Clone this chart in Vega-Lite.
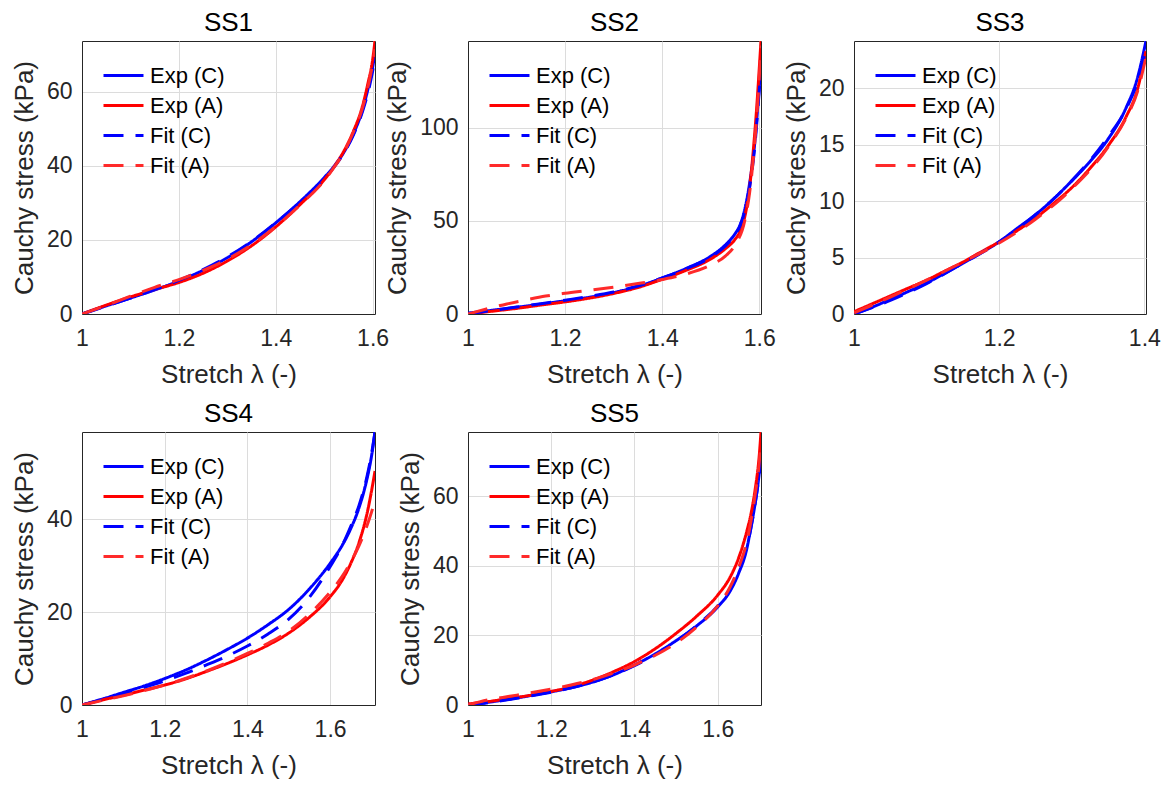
{
  "$schema": "https://vega.github.io/schema/vega-lite/v6.json",
  "background": "white",
  "padding": {"left": 10, "top": 9, "right": 0, "bottom": 0},
  "datasets": {
    "curves": [
      {"p":"SS1","s":"Exp (C)","x":1,"y":0},{"p":"SS1","s":"Exp (C)","x":1.05,"y":2.2},{"p":"SS1","s":"Exp (C)","x":1.1,"y":4.3},{"p":"SS1","s":"Exp (C)","x":1.15,"y":6.5},{"p":"SS1","s":"Exp (C)","x":1.2,"y":8.9},{"p":"SS1","s":"Exp (C)","x":1.25,"y":11.8},{"p":"SS1","s":"Exp (C)","x":1.3,"y":15.2},{"p":"SS1","s":"Exp (C)","x":1.35,"y":19.5},{"p":"SS1","s":"Exp (C)","x":1.4,"y":24.6},{"p":"SS1","s":"Exp (C)","x":1.45,"y":30.3},{"p":"SS1","s":"Exp (C)","x":1.5,"y":36.8},{"p":"SS1","s":"Exp (C)","x":1.52,"y":39.8},{"p":"SS1","s":"Exp (C)","x":1.54,"y":43.5},{"p":"SS1","s":"Exp (C)","x":1.56,"y":48.5},{"p":"SS1","s":"Exp (C)","x":1.58,"y":55.5},{"p":"SS1","s":"Exp (C)","x":1.59,"y":60.5},{"p":"SS1","s":"Exp (C)","x":1.6,"y":66.5},{"p":"SS1","s":"Exp (C)","x":1.605,"y":70.5},
      {"p":"SS1","s":"Exp (A)","x":1,"y":0},{"p":"SS1","s":"Exp (A)","x":1.05,"y":2.4},{"p":"SS1","s":"Exp (A)","x":1.1,"y":4.6},{"p":"SS1","s":"Exp (A)","x":1.15,"y":6.6},{"p":"SS1","s":"Exp (A)","x":1.2,"y":8.5},{"p":"SS1","s":"Exp (A)","x":1.25,"y":11},{"p":"SS1","s":"Exp (A)","x":1.3,"y":14.3},{"p":"SS1","s":"Exp (A)","x":1.35,"y":18.4},{"p":"SS1","s":"Exp (A)","x":1.4,"y":23.5},{"p":"SS1","s":"Exp (A)","x":1.45,"y":29.5},{"p":"SS1","s":"Exp (A)","x":1.5,"y":36.2},{"p":"SS1","s":"Exp (A)","x":1.52,"y":39.7},{"p":"SS1","s":"Exp (A)","x":1.54,"y":43.8},{"p":"SS1","s":"Exp (A)","x":1.56,"y":49.2},{"p":"SS1","s":"Exp (A)","x":1.58,"y":56.5},{"p":"SS1","s":"Exp (A)","x":1.59,"y":62},{"p":"SS1","s":"Exp (A)","x":1.6,"y":68.5},{"p":"SS1","s":"Exp (A)","x":1.605,"y":73.7},
      {"p":"SS1","s":"Fit (C)","x":1,"y":0},{"p":"SS1","s":"Fit (C)","x":1.05,"y":2.1},{"p":"SS1","s":"Fit (C)","x":1.1,"y":4.3},{"p":"SS1","s":"Fit (C)","x":1.15,"y":6.6},{"p":"SS1","s":"Fit (C)","x":1.2,"y":9.1},{"p":"SS1","s":"Fit (C)","x":1.25,"y":12},{"p":"SS1","s":"Fit (C)","x":1.3,"y":15.4},{"p":"SS1","s":"Fit (C)","x":1.35,"y":19.6},{"p":"SS1","s":"Fit (C)","x":1.4,"y":24.6},{"p":"SS1","s":"Fit (C)","x":1.45,"y":30.2},{"p":"SS1","s":"Fit (C)","x":1.5,"y":36.6},{"p":"SS1","s":"Fit (C)","x":1.52,"y":39.6},{"p":"SS1","s":"Fit (C)","x":1.54,"y":43.3},{"p":"SS1","s":"Fit (C)","x":1.56,"y":48.2},{"p":"SS1","s":"Fit (C)","x":1.58,"y":55},{"p":"SS1","s":"Fit (C)","x":1.59,"y":59.5},{"p":"SS1","s":"Fit (C)","x":1.6,"y":65.5},{"p":"SS1","s":"Fit (C)","x":1.605,"y":69},
      {"p":"SS1","s":"Fit (A)","x":1,"y":0},{"p":"SS1","s":"Fit (A)","x":1.05,"y":2.3},{"p":"SS1","s":"Fit (A)","x":1.1,"y":4.8},{"p":"SS1","s":"Fit (A)","x":1.15,"y":7.2},{"p":"SS1","s":"Fit (A)","x":1.2,"y":9.3},{"p":"SS1","s":"Fit (A)","x":1.25,"y":11.8},{"p":"SS1","s":"Fit (A)","x":1.3,"y":14.8},{"p":"SS1","s":"Fit (A)","x":1.35,"y":18.7},{"p":"SS1","s":"Fit (A)","x":1.4,"y":23.6},{"p":"SS1","s":"Fit (A)","x":1.45,"y":29.4},{"p":"SS1","s":"Fit (A)","x":1.5,"y":36},{"p":"SS1","s":"Fit (A)","x":1.52,"y":39.5},{"p":"SS1","s":"Fit (A)","x":1.54,"y":43.5},{"p":"SS1","s":"Fit (A)","x":1.56,"y":49},{"p":"SS1","s":"Fit (A)","x":1.58,"y":56},{"p":"SS1","s":"Fit (A)","x":1.59,"y":61},{"p":"SS1","s":"Fit (A)","x":1.6,"y":67.5},{"p":"SS1","s":"Fit (A)","x":1.605,"y":71.5},

      {"p":"SS2","s":"Exp (C)","x":1,"y":0.5},{"p":"SS2","s":"Exp (C)","x":1.05,"y":2},{"p":"SS2","s":"Exp (C)","x":1.1,"y":3.6},{"p":"SS2","s":"Exp (C)","x":1.15,"y":5.3},{"p":"SS2","s":"Exp (C)","x":1.2,"y":7.1},{"p":"SS2","s":"Exp (C)","x":1.25,"y":9},{"p":"SS2","s":"Exp (C)","x":1.3,"y":11.5},{"p":"SS2","s":"Exp (C)","x":1.35,"y":14.8},{"p":"SS2","s":"Exp (C)","x":1.4,"y":19.3},{"p":"SS2","s":"Exp (C)","x":1.45,"y":24.5},{"p":"SS2","s":"Exp (C)","x":1.5,"y":31},{"p":"SS2","s":"Exp (C)","x":1.53,"y":37},{"p":"SS2","s":"Exp (C)","x":1.55,"y":43},{"p":"SS2","s":"Exp (C)","x":1.56,"y":47.5},{"p":"SS2","s":"Exp (C)","x":1.57,"y":56},{"p":"SS2","s":"Exp (C)","x":1.58,"y":70},{"p":"SS2","s":"Exp (C)","x":1.59,"y":90},{"p":"SS2","s":"Exp (C)","x":1.595,"y":105},{"p":"SS2","s":"Exp (C)","x":1.6,"y":122},{"p":"SS2","s":"Exp (C)","x":1.6035,"y":131.3},
      {"p":"SS2","s":"Exp (A)","x":1,"y":0},{"p":"SS2","s":"Exp (A)","x":1.05,"y":1.5},{"p":"SS2","s":"Exp (A)","x":1.1,"y":3},{"p":"SS2","s":"Exp (A)","x":1.15,"y":4.8},{"p":"SS2","s":"Exp (A)","x":1.2,"y":6.5},{"p":"SS2","s":"Exp (A)","x":1.25,"y":8.5},{"p":"SS2","s":"Exp (A)","x":1.3,"y":11},{"p":"SS2","s":"Exp (A)","x":1.35,"y":14.2},{"p":"SS2","s":"Exp (A)","x":1.4,"y":18.6},{"p":"SS2","s":"Exp (A)","x":1.45,"y":23.5},{"p":"SS2","s":"Exp (A)","x":1.5,"y":29.5},{"p":"SS2","s":"Exp (A)","x":1.53,"y":35},{"p":"SS2","s":"Exp (A)","x":1.55,"y":40},{"p":"SS2","s":"Exp (A)","x":1.56,"y":44},{"p":"SS2","s":"Exp (A)","x":1.57,"y":52},{"p":"SS2","s":"Exp (A)","x":1.58,"y":68},{"p":"SS2","s":"Exp (A)","x":1.59,"y":95},{"p":"SS2","s":"Exp (A)","x":1.595,"y":112},{"p":"SS2","s":"Exp (A)","x":1.6,"y":132},{"p":"SS2","s":"Exp (A)","x":1.6035,"y":146.4},
      {"p":"SS2","s":"Fit (C)","x":1,"y":0},{"p":"SS2","s":"Fit (C)","x":1.05,"y":1.9},{"p":"SS2","s":"Fit (C)","x":1.1,"y":3.7},{"p":"SS2","s":"Fit (C)","x":1.15,"y":5.5},{"p":"SS2","s":"Fit (C)","x":1.2,"y":7.4},{"p":"SS2","s":"Fit (C)","x":1.25,"y":9.4},{"p":"SS2","s":"Fit (C)","x":1.3,"y":11.8},{"p":"SS2","s":"Fit (C)","x":1.35,"y":15},{"p":"SS2","s":"Fit (C)","x":1.4,"y":19.3},{"p":"SS2","s":"Fit (C)","x":1.45,"y":24.3},{"p":"SS2","s":"Fit (C)","x":1.5,"y":30.5},{"p":"SS2","s":"Fit (C)","x":1.53,"y":36.5},{"p":"SS2","s":"Fit (C)","x":1.55,"y":42.5},{"p":"SS2","s":"Fit (C)","x":1.56,"y":47},{"p":"SS2","s":"Fit (C)","x":1.57,"y":55},{"p":"SS2","s":"Fit (C)","x":1.58,"y":68},{"p":"SS2","s":"Fit (C)","x":1.59,"y":88},{"p":"SS2","s":"Fit (C)","x":1.595,"y":103},{"p":"SS2","s":"Fit (C)","x":1.6,"y":120},{"p":"SS2","s":"Fit (C)","x":1.6035,"y":130},
      {"p":"SS2","s":"Fit (A)","x":1,"y":0},{"p":"SS2","s":"Fit (A)","x":1.04,"y":2.8},{"p":"SS2","s":"Fit (A)","x":1.08,"y":5.4},{"p":"SS2","s":"Fit (A)","x":1.12,"y":7.6},{"p":"SS2","s":"Fit (A)","x":1.16,"y":9.6},{"p":"SS2","s":"Fit (A)","x":1.2,"y":11.1},{"p":"SS2","s":"Fit (A)","x":1.25,"y":12.7},{"p":"SS2","s":"Fit (A)","x":1.3,"y":14.4},{"p":"SS2","s":"Fit (A)","x":1.35,"y":16.3},{"p":"SS2","s":"Fit (A)","x":1.4,"y":18.5},{"p":"SS2","s":"Fit (A)","x":1.45,"y":21.5},{"p":"SS2","s":"Fit (A)","x":1.5,"y":26.3},{"p":"SS2","s":"Fit (A)","x":1.53,"y":31},{"p":"SS2","s":"Fit (A)","x":1.55,"y":37},{"p":"SS2","s":"Fit (A)","x":1.57,"y":50},{"p":"SS2","s":"Fit (A)","x":1.58,"y":65},{"p":"SS2","s":"Fit (A)","x":1.59,"y":90},{"p":"SS2","s":"Fit (A)","x":1.6,"y":127},{"p":"SS2","s":"Fit (A)","x":1.6035,"y":144},

      {"p":"SS3","s":"Exp (C)","x":1,"y":0},{"p":"SS3","s":"Exp (C)","x":1.025,"y":0.6},{"p":"SS3","s":"Exp (C)","x":1.05,"y":1.3},{"p":"SS3","s":"Exp (C)","x":1.075,"y":2},{"p":"SS3","s":"Exp (C)","x":1.1,"y":2.75},{"p":"SS3","s":"Exp (C)","x":1.125,"y":3.6},{"p":"SS3","s":"Exp (C)","x":1.15,"y":4.5},{"p":"SS3","s":"Exp (C)","x":1.175,"y":5.4},{"p":"SS3","s":"Exp (C)","x":1.2,"y":6.4},{"p":"SS3","s":"Exp (C)","x":1.225,"y":7.6},{"p":"SS3","s":"Exp (C)","x":1.25,"y":8.8},{"p":"SS3","s":"Exp (C)","x":1.275,"y":10.2},{"p":"SS3","s":"Exp (C)","x":1.3,"y":11.8},{"p":"SS3","s":"Exp (C)","x":1.325,"y":13.5},{"p":"SS3","s":"Exp (C)","x":1.35,"y":15.5},{"p":"SS3","s":"Exp (C)","x":1.375,"y":18.3},{"p":"SS3","s":"Exp (C)","x":1.39,"y":20.8},{"p":"SS3","s":"Exp (C)","x":1.4023,"y":24.2},
      {"p":"SS3","s":"Exp (A)","x":1,"y":0.2},{"p":"SS3","s":"Exp (A)","x":1.025,"y":0.9},{"p":"SS3","s":"Exp (A)","x":1.05,"y":1.6},{"p":"SS3","s":"Exp (A)","x":1.075,"y":2.3},{"p":"SS3","s":"Exp (A)","x":1.1,"y":3},{"p":"SS3","s":"Exp (A)","x":1.125,"y":3.8},{"p":"SS3","s":"Exp (A)","x":1.15,"y":4.6},{"p":"SS3","s":"Exp (A)","x":1.175,"y":5.5},{"p":"SS3","s":"Exp (A)","x":1.2,"y":6.4},{"p":"SS3","s":"Exp (A)","x":1.225,"y":7.4},{"p":"SS3","s":"Exp (A)","x":1.25,"y":8.5},{"p":"SS3","s":"Exp (A)","x":1.275,"y":9.8},{"p":"SS3","s":"Exp (A)","x":1.3,"y":11.2},{"p":"SS3","s":"Exp (A)","x":1.325,"y":12.9},{"p":"SS3","s":"Exp (A)","x":1.35,"y":14.9},{"p":"SS3","s":"Exp (A)","x":1.375,"y":17.5},{"p":"SS3","s":"Exp (A)","x":1.39,"y":19.8},{"p":"SS3","s":"Exp (A)","x":1.4023,"y":23.3},
      {"p":"SS3","s":"Fit (C)","x":1,"y":0},{"p":"SS3","s":"Fit (C)","x":1.05,"y":1.2},{"p":"SS3","s":"Fit (C)","x":1.1,"y":2.7},{"p":"SS3","s":"Fit (C)","x":1.15,"y":4.5},{"p":"SS3","s":"Fit (C)","x":1.2,"y":6.4},{"p":"SS3","s":"Fit (C)","x":1.25,"y":8.8},{"p":"SS3","s":"Fit (C)","x":1.3,"y":11.8},{"p":"SS3","s":"Fit (C)","x":1.35,"y":15.7},{"p":"SS3","s":"Fit (C)","x":1.375,"y":18.2},{"p":"SS3","s":"Fit (C)","x":1.39,"y":20.5},{"p":"SS3","s":"Fit (C)","x":1.4023,"y":23.5},
      {"p":"SS3","s":"Fit (A)","x":1,"y":0.1},{"p":"SS3","s":"Fit (A)","x":1.05,"y":1.5},{"p":"SS3","s":"Fit (A)","x":1.1,"y":3},{"p":"SS3","s":"Fit (A)","x":1.15,"y":4.6},{"p":"SS3","s":"Fit (A)","x":1.2,"y":6.3},{"p":"SS3","s":"Fit (A)","x":1.25,"y":8.4},{"p":"SS3","s":"Fit (A)","x":1.3,"y":11.1},{"p":"SS3","s":"Fit (A)","x":1.35,"y":14.8},{"p":"SS3","s":"Fit (A)","x":1.375,"y":17.4},{"p":"SS3","s":"Fit (A)","x":1.39,"y":19.6},{"p":"SS3","s":"Fit (A)","x":1.4023,"y":22.8},

      {"p":"SS4","s":"Exp (C)","x":1,"y":0},{"p":"SS4","s":"Exp (C)","x":1.05,"y":1.3},{"p":"SS4","s":"Exp (C)","x":1.1,"y":2.7},{"p":"SS4","s":"Exp (C)","x":1.15,"y":4.1},{"p":"SS4","s":"Exp (C)","x":1.2,"y":5.7},{"p":"SS4","s":"Exp (C)","x":1.25,"y":7.5},{"p":"SS4","s":"Exp (C)","x":1.3,"y":9.6},{"p":"SS4","s":"Exp (C)","x":1.35,"y":11.9},{"p":"SS4","s":"Exp (C)","x":1.4,"y":14.4},{"p":"SS4","s":"Exp (C)","x":1.45,"y":17.3},{"p":"SS4","s":"Exp (C)","x":1.5,"y":20.6},{"p":"SS4","s":"Exp (C)","x":1.55,"y":25},{"p":"SS4","s":"Exp (C)","x":1.6,"y":30.5},{"p":"SS4","s":"Exp (C)","x":1.63,"y":34.5},{"p":"SS4","s":"Exp (C)","x":1.65,"y":38},{"p":"SS4","s":"Exp (C)","x":1.67,"y":42.5},{"p":"SS4","s":"Exp (C)","x":1.69,"y":49},{"p":"SS4","s":"Exp (C)","x":1.7,"y":53.5},{"p":"SS4","s":"Exp (C)","x":1.7086,"y":58.8},
      {"p":"SS4","s":"Exp (A)","x":1,"y":0},{"p":"SS4","s":"Exp (A)","x":1.05,"y":1.1},{"p":"SS4","s":"Exp (A)","x":1.1,"y":2.1},{"p":"SS4","s":"Exp (A)","x":1.15,"y":3.2},{"p":"SS4","s":"Exp (A)","x":1.2,"y":4.3},{"p":"SS4","s":"Exp (A)","x":1.25,"y":5.6},{"p":"SS4","s":"Exp (A)","x":1.3,"y":7.2},{"p":"SS4","s":"Exp (A)","x":1.35,"y":8.9},{"p":"SS4","s":"Exp (A)","x":1.4,"y":10.8},{"p":"SS4","s":"Exp (A)","x":1.45,"y":12.9},{"p":"SS4","s":"Exp (A)","x":1.5,"y":15.5},{"p":"SS4","s":"Exp (A)","x":1.55,"y":18.9},{"p":"SS4","s":"Exp (A)","x":1.6,"y":23.3},{"p":"SS4","s":"Exp (A)","x":1.63,"y":27},{"p":"SS4","s":"Exp (A)","x":1.65,"y":30.5},{"p":"SS4","s":"Exp (A)","x":1.67,"y":35},{"p":"SS4","s":"Exp (A)","x":1.69,"y":41.5},{"p":"SS4","s":"Exp (A)","x":1.7,"y":46},{"p":"SS4","s":"Exp (A)","x":1.7086,"y":50.4},
      {"p":"SS4","s":"Fit (C)","x":1,"y":0},{"p":"SS4","s":"Fit (C)","x":1.05,"y":1.2},{"p":"SS4","s":"Fit (C)","x":1.1,"y":2.5},{"p":"SS4","s":"Fit (C)","x":1.15,"y":3.8},{"p":"SS4","s":"Fit (C)","x":1.2,"y":5.2},{"p":"SS4","s":"Fit (C)","x":1.25,"y":6.8},{"p":"SS4","s":"Fit (C)","x":1.3,"y":8.6},{"p":"SS4","s":"Fit (C)","x":1.35,"y":10.5},{"p":"SS4","s":"Fit (C)","x":1.4,"y":12.7},{"p":"SS4","s":"Fit (C)","x":1.45,"y":15.3},{"p":"SS4","s":"Fit (C)","x":1.5,"y":18.5},{"p":"SS4","s":"Fit (C)","x":1.55,"y":23.2},{"p":"SS4","s":"Fit (C)","x":1.6,"y":29.8},{"p":"SS4","s":"Fit (C)","x":1.63,"y":34.5},{"p":"SS4","s":"Fit (C)","x":1.65,"y":38.5},{"p":"SS4","s":"Fit (C)","x":1.67,"y":43},{"p":"SS4","s":"Fit (C)","x":1.69,"y":49.5},{"p":"SS4","s":"Fit (C)","x":1.7,"y":54},{"p":"SS4","s":"Fit (C)","x":1.7086,"y":58.8},
      {"p":"SS4","s":"Fit (A)","x":1,"y":0},{"p":"SS4","s":"Fit (A)","x":1.05,"y":1},{"p":"SS4","s":"Fit (A)","x":1.1,"y":2},{"p":"SS4","s":"Fit (A)","x":1.15,"y":3.1},{"p":"SS4","s":"Fit (A)","x":1.2,"y":4.3},{"p":"SS4","s":"Fit (A)","x":1.25,"y":5.7},{"p":"SS4","s":"Fit (A)","x":1.3,"y":7.3},{"p":"SS4","s":"Fit (A)","x":1.35,"y":9.1},{"p":"SS4","s":"Fit (A)","x":1.4,"y":11.1},{"p":"SS4","s":"Fit (A)","x":1.45,"y":13.3},{"p":"SS4","s":"Fit (A)","x":1.5,"y":15.9},{"p":"SS4","s":"Fit (A)","x":1.55,"y":19.6},{"p":"SS4","s":"Fit (A)","x":1.6,"y":24.3},{"p":"SS4","s":"Fit (A)","x":1.63,"y":27.8},{"p":"SS4","s":"Fit (A)","x":1.65,"y":30.8},{"p":"SS4","s":"Fit (A)","x":1.67,"y":34.3},{"p":"SS4","s":"Fit (A)","x":1.69,"y":38.8},{"p":"SS4","s":"Fit (A)","x":1.7,"y":41.5},{"p":"SS4","s":"Fit (A)","x":1.7086,"y":44.1},

      {"p":"SS5","s":"Exp (C)","x":1,"y":0},{"p":"SS5","s":"Exp (C)","x":1.05,"y":0.8},{"p":"SS5","s":"Exp (C)","x":1.1,"y":1.7},{"p":"SS5","s":"Exp (C)","x":1.15,"y":2.7},{"p":"SS5","s":"Exp (C)","x":1.2,"y":3.8},{"p":"SS5","s":"Exp (C)","x":1.25,"y":5},{"p":"SS5","s":"Exp (C)","x":1.3,"y":6.6},{"p":"SS5","s":"Exp (C)","x":1.35,"y":8.7},{"p":"SS5","s":"Exp (C)","x":1.4,"y":11.5},{"p":"SS5","s":"Exp (C)","x":1.45,"y":14.7},{"p":"SS5","s":"Exp (C)","x":1.5,"y":18.5},{"p":"SS5","s":"Exp (C)","x":1.55,"y":22.8},{"p":"SS5","s":"Exp (C)","x":1.6,"y":28.2},{"p":"SS5","s":"Exp (C)","x":1.63,"y":32.8},{"p":"SS5","s":"Exp (C)","x":1.65,"y":37.8},{"p":"SS5","s":"Exp (C)","x":1.67,"y":45},{"p":"SS5","s":"Exp (C)","x":1.68,"y":51.2},{"p":"SS5","s":"Exp (C)","x":1.69,"y":58},{"p":"SS5","s":"Exp (C)","x":1.7,"y":67},{"p":"SS5","s":"Exp (C)","x":1.704,"y":72.2},
      {"p":"SS5","s":"Exp (A)","x":1,"y":0.3},{"p":"SS5","s":"Exp (A)","x":1.05,"y":1},{"p":"SS5","s":"Exp (A)","x":1.1,"y":1.9},{"p":"SS5","s":"Exp (A)","x":1.15,"y":2.8},{"p":"SS5","s":"Exp (A)","x":1.2,"y":3.9},{"p":"SS5","s":"Exp (A)","x":1.25,"y":5.3},{"p":"SS5","s":"Exp (A)","x":1.3,"y":7.2},{"p":"SS5","s":"Exp (A)","x":1.35,"y":9.6},{"p":"SS5","s":"Exp (A)","x":1.4,"y":12.5},{"p":"SS5","s":"Exp (A)","x":1.45,"y":16.2},{"p":"SS5","s":"Exp (A)","x":1.5,"y":20.6},{"p":"SS5","s":"Exp (A)","x":1.55,"y":25.6},{"p":"SS5","s":"Exp (A)","x":1.6,"y":31.6},{"p":"SS5","s":"Exp (A)","x":1.63,"y":36.8},{"p":"SS5","s":"Exp (A)","x":1.65,"y":42.2},{"p":"SS5","s":"Exp (A)","x":1.67,"y":50},{"p":"SS5","s":"Exp (A)","x":1.68,"y":55},{"p":"SS5","s":"Exp (A)","x":1.69,"y":62},{"p":"SS5","s":"Exp (A)","x":1.7,"y":72},{"p":"SS5","s":"Exp (A)","x":1.704,"y":78.5},
      {"p":"SS5","s":"Fit (C)","x":1,"y":0},{"p":"SS5","s":"Fit (C)","x":1.05,"y":0.7},{"p":"SS5","s":"Fit (C)","x":1.1,"y":1.6},{"p":"SS5","s":"Fit (C)","x":1.15,"y":2.6},{"p":"SS5","s":"Fit (C)","x":1.2,"y":3.7},{"p":"SS5","s":"Fit (C)","x":1.25,"y":5},{"p":"SS5","s":"Fit (C)","x":1.3,"y":6.6},{"p":"SS5","s":"Fit (C)","x":1.35,"y":8.7},{"p":"SS5","s":"Fit (C)","x":1.4,"y":11.3},{"p":"SS5","s":"Fit (C)","x":1.45,"y":14.5},{"p":"SS5","s":"Fit (C)","x":1.5,"y":18.3},{"p":"SS5","s":"Fit (C)","x":1.55,"y":22.9},{"p":"SS5","s":"Fit (C)","x":1.6,"y":28.5},{"p":"SS5","s":"Fit (C)","x":1.63,"y":33.5},{"p":"SS5","s":"Fit (C)","x":1.65,"y":38.5},{"p":"SS5","s":"Fit (C)","x":1.67,"y":45.5},{"p":"SS5","s":"Fit (C)","x":1.68,"y":51},{"p":"SS5","s":"Fit (C)","x":1.69,"y":58},{"p":"SS5","s":"Fit (C)","x":1.7,"y":66.5},{"p":"SS5","s":"Fit (C)","x":1.704,"y":71},
      {"p":"SS5","s":"Fit (A)","x":1,"y":0},{"p":"SS5","s":"Fit (A)","x":1.05,"y":1.5},{"p":"SS5","s":"Fit (A)","x":1.1,"y":2.5},{"p":"SS5","s":"Fit (A)","x":1.15,"y":3.5},{"p":"SS5","s":"Fit (A)","x":1.2,"y":4.6},{"p":"SS5","s":"Fit (A)","x":1.25,"y":5.8},{"p":"SS5","s":"Fit (A)","x":1.3,"y":7.3},{"p":"SS5","s":"Fit (A)","x":1.35,"y":9.2},{"p":"SS5","s":"Fit (A)","x":1.4,"y":11.5},{"p":"SS5","s":"Fit (A)","x":1.45,"y":14.3},{"p":"SS5","s":"Fit (A)","x":1.5,"y":17.8},{"p":"SS5","s":"Fit (A)","x":1.55,"y":22.5},{"p":"SS5","s":"Fit (A)","x":1.6,"y":28.5},{"p":"SS5","s":"Fit (A)","x":1.63,"y":34},{"p":"SS5","s":"Fit (A)","x":1.65,"y":39.5},{"p":"SS5","s":"Fit (A)","x":1.67,"y":47},{"p":"SS5","s":"Fit (A)","x":1.68,"y":53},{"p":"SS5","s":"Fit (A)","x":1.69,"y":60.5},{"p":"SS5","s":"Fit (A)","x":1.7,"y":70},{"p":"SS5","s":"Fit (A)","x":1.704,"y":76}
    ]
  },
  "data": {"name": "curves"},
  "columns": 3,
  "bounds": "flush",
  "spacing": {"row": 118, "column": 93},
  "resolve": {
    "scale": {"x": "independent", "y": "independent", "color": "independent", "strokeDash": "independent", "strokeWidth": "independent"},
    "legend": {"color": "independent", "strokeDash": "independent", "strokeWidth": "independent"},
    "axis": {"x": "independent", "y": "independent"}
  },
  "concat": [
    {
      "title": "SS1", "width": 293, "height": 273,
      "transform": [{"filter": "datum.p === 'SS1'"}],
      "mark": {"type": "line", "clip": true, "interpolate": "monotone"},
      "encoding": {
        "x": {"field": "x", "type": "quantitative", "scale": {"domain": [1, 1.605], "nice": false, "zero": false}, "axis": {"values": [1, 1.2, 1.4, 1.6], "title": "Stretch λ (-)"}},
        "y": {"field": "y", "type": "quantitative", "scale": {"domain": [0, 73.7], "nice": false}, "axis": {"values": [0, 20, 40, 60], "title": "Cauchy stress (kPa)"}},
        "color": {"field": "s", "type": "nominal", "scale": {"domain": ["Exp (C)", "Exp (A)", "Fit (C)", "Fit (A)"], "range": ["#0000ff", "#ff0000", "#0000ff", "#ff2a2a"]}},
        "strokeDash": {"field": "s", "type": "nominal", "scale": {"domain": ["Exp (C)", "Exp (A)", "Fit (C)", "Fit (A)"], "range": [[1, 0], [1, 0], [20, 12], [20, 12]]}},
        "strokeWidth": {"field": "s", "type": "ordinal", "scale": {"domain": ["Exp (C)", "Exp (A)", "Fit (C)", "Fit (A)"], "range": [3, 3, 1.4, 1.4]}}
      }
    },
    {
      "title": "SS2", "width": 293, "height": 273,
      "transform": [{"filter": "datum.p === 'SS2'"}],
      "mark": {"type": "line", "clip": true, "interpolate": "monotone"},
      "encoding": {
        "x": {"field": "x", "type": "quantitative", "scale": {"domain": [1, 1.6035], "nice": false, "zero": false}, "axis": {"values": [1, 1.2, 1.4, 1.6], "title": "Stretch λ (-)"}},
        "y": {"field": "y", "type": "quantitative", "scale": {"domain": [0, 146.4], "nice": false}, "axis": {"values": [0, 50, 100], "title": "Cauchy stress (kPa)"}},
        "color": {"field": "s", "type": "nominal", "scale": {"domain": ["Exp (C)", "Exp (A)", "Fit (C)", "Fit (A)"], "range": ["#0000ff", "#ff0000", "#0000ff", "#ff2a2a"]}},
        "strokeDash": {"field": "s", "type": "nominal", "scale": {"domain": ["Exp (C)", "Exp (A)", "Fit (C)", "Fit (A)"], "range": [[1, 0], [1, 0], [20, 12], [20, 12]]}},
        "strokeWidth": {"field": "s", "type": "ordinal", "scale": {"domain": ["Exp (C)", "Exp (A)", "Fit (C)", "Fit (A)"], "range": [3, 3, 1.4, 1.4]}}
      }
    },
    {
      "title": "SS3", "width": 292, "height": 273,
      "transform": [{"filter": "datum.p === 'SS3'"}],
      "mark": {"type": "line", "clip": true, "interpolate": "monotone"},
      "encoding": {
        "x": {"field": "x", "type": "quantitative", "scale": {"domain": [1, 1.4023], "nice": false, "zero": false}, "axis": {"values": [1, 1.2, 1.4], "title": "Stretch λ (-)"}},
        "y": {"field": "y", "type": "quantitative", "scale": {"domain": [0, 24.2], "nice": false}, "axis": {"values": [0, 5, 10, 15, 20], "title": "Cauchy stress (kPa)"}},
        "color": {"field": "s", "type": "nominal", "scale": {"domain": ["Exp (C)", "Exp (A)", "Fit (C)", "Fit (A)"], "range": ["#0000ff", "#ff0000", "#0000ff", "#ff2a2a"]}},
        "strokeDash": {"field": "s", "type": "nominal", "scale": {"domain": ["Exp (C)", "Exp (A)", "Fit (C)", "Fit (A)"], "range": [[1, 0], [1, 0], [20, 12], [20, 12]]}},
        "strokeWidth": {"field": "s", "type": "ordinal", "scale": {"domain": ["Exp (C)", "Exp (A)", "Fit (C)", "Fit (A)"], "range": [3, 3, 1.4, 1.4]}}
      }
    },
    {
      "title": "SS4", "width": 293, "height": 273,
      "transform": [{"filter": "datum.p === 'SS4'"}],
      "mark": {"type": "line", "clip": true, "interpolate": "monotone"},
      "encoding": {
        "x": {"field": "x", "type": "quantitative", "scale": {"domain": [1, 1.7086], "nice": false, "zero": false}, "axis": {"values": [1, 1.2, 1.4, 1.6], "title": "Stretch λ (-)"}},
        "y": {"field": "y", "type": "quantitative", "scale": {"domain": [0, 58.8], "nice": false}, "axis": {"values": [0, 20, 40], "title": "Cauchy stress (kPa)"}},
        "color": {"field": "s", "type": "nominal", "scale": {"domain": ["Exp (C)", "Exp (A)", "Fit (C)", "Fit (A)"], "range": ["#0000ff", "#ff0000", "#0000ff", "#ff2a2a"]}},
        "strokeDash": {"field": "s", "type": "nominal", "scale": {"domain": ["Exp (C)", "Exp (A)", "Fit (C)", "Fit (A)"], "range": [[1, 0], [1, 0], [20, 12], [20, 12]]}},
        "strokeWidth": {"field": "s", "type": "ordinal", "scale": {"domain": ["Exp (C)", "Exp (A)", "Fit (C)", "Fit (A)"], "range": [3, 3, 1.4, 1.4]}}
      }
    },
    {
      "title": "SS5", "width": 293, "height": 273,
      "transform": [{"filter": "datum.p === 'SS5'"}],
      "mark": {"type": "line", "clip": true, "interpolate": "monotone"},
      "encoding": {
        "x": {"field": "x", "type": "quantitative", "scale": {"domain": [1, 1.704], "nice": false, "zero": false}, "axis": {"values": [1, 1.2, 1.4, 1.6], "title": "Stretch λ (-)"}},
        "y": {"field": "y", "type": "quantitative", "scale": {"domain": [0, 78.5], "nice": false}, "axis": {"values": [0, 20, 40, 60], "title": "Cauchy stress (kPa)"}},
        "color": {"field": "s", "type": "nominal", "scale": {"domain": ["Exp (C)", "Exp (A)", "Fit (C)", "Fit (A)"], "range": ["#0000ff", "#ff0000", "#0000ff", "#ff2a2a"]}},
        "strokeDash": {"field": "s", "type": "nominal", "scale": {"domain": ["Exp (C)", "Exp (A)", "Fit (C)", "Fit (A)"], "range": [[1, 0], [1, 0], [20, 12], [20, 12]]}},
        "strokeWidth": {"field": "s", "type": "ordinal", "scale": {"domain": ["Exp (C)", "Exp (A)", "Fit (C)", "Fit (A)"], "range": [3, 3, 1.4, 1.4]}}
      }
    }
  ],
  "config": {
    "font": "Liberation Sans",
    "view": {"stroke": "#262626", "strokeWidth": 1},
    "title": {"fontSize": 26, "fontWeight": "normal", "color": "#000000", "offset": 5, "font": "Liberation Sans"},
    "axis": {
      "labelFontSize": 23, "titleFontSize": 26, "titleFontWeight": "normal",
      "labelColor": "#262626", "titleColor": "#262626",
      "domainColor": "#262626", "tickColor": "#262626",
      "gridColor": "#dcdcdc", "gridWidth": 1, "grid": true,
      "ticks": false, "tickSize": 0, "labelExpr": "'' + datum.value",
      "labelFont": "Liberation Sans", "titleFont": "Liberation Sans"
    },
    "axisX": {"labelPadding": 13, "titlePadding": 11, "labelFlush": false},
    "axisY": {"labelPadding": 10, "titlePadding": 9, "labelFlush": false},
    "legend": {
      "orient": "none", "legendX": 30, "legendY": 23, "title": null, "padding": 0,
      "symbolType": "M-2,0H2", "symbolSize": 400, "labelFontSize": 22,
      "labelFont": "Liberation Sans", "labelColor": "#000000",
      "rowPadding": 7, "labelOffset": 15, "symbolOffset": 0
    }
  }
}
